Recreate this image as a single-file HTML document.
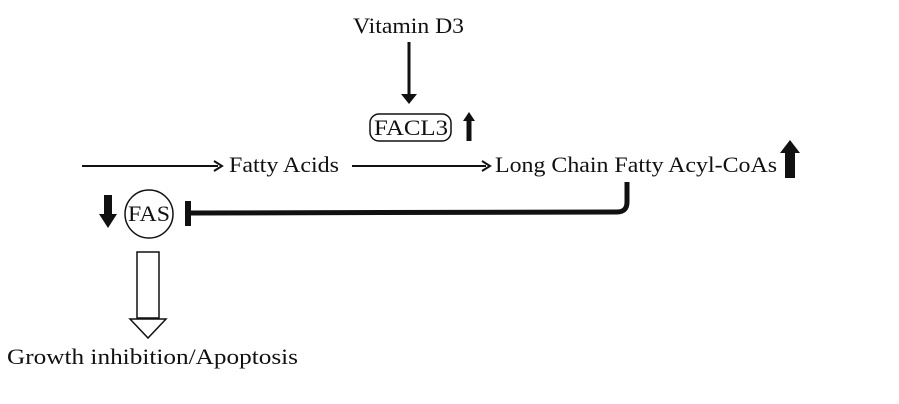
<!DOCTYPE html>
<html><head><style>
body{margin:0;background:#fff;}
svg{display:block;}
text{font-family:"Liberation Serif",serif;font-size:22px;fill:#111;}
</style></head><body>
<svg width="899" height="404" viewBox="0 0 899 404" xmlns="http://www.w3.org/2000/svg">
<text x="353" y="33" textLength="111" lengthAdjust="spacingAndGlyphs">Vitamin D3</text>
<line x1="409" y1="42" x2="409" y2="95" stroke="#111" stroke-width="3"/>
<polygon points="401,94 417,94 409,104" fill="#111"/>
<rect x="370" y="114" width="81" height="27" rx="9" fill="none" stroke="#111" stroke-width="1.5"/>
<text x="374" y="135" font-size="21" textLength="74" lengthAdjust="spacingAndGlyphs">FACL3</text>
<rect x="466.5" y="120" width="5" height="21" fill="#111"/>
<polygon points="463,121 475,121 469,112" fill="#111"/>
<line x1="82" y1="166" x2="218" y2="166" stroke="#111" stroke-width="2"/>
<polyline points="214,161 222,166 214,171" fill="none" stroke="#111" stroke-width="2"/>
<text x="229" y="172" textLength="110" lengthAdjust="spacingAndGlyphs">Fatty Acids</text>
<line x1="352" y1="166" x2="486" y2="166" stroke="#111" stroke-width="2"/>
<polyline points="482,161 490,166 482,171" fill="none" stroke="#111" stroke-width="2"/>
<text x="495" y="172" textLength="282" lengthAdjust="spacingAndGlyphs">Long Chain Fatty Acyl-CoAs</text>
<rect x="785" y="152" width="10" height="26" fill="#111"/>
<polygon points="780,153 800,153 790,140" fill="#111"/>
<path d="M627,182 L627,202 Q627,212 617,212 L190,213" fill="none" stroke="#111" stroke-width="5"/>
<rect x="185" y="201" width="6" height="25" fill="#111"/>
<circle cx="149" cy="214" r="24" fill="none" stroke="#111" stroke-width="1.5"/>
<text x="128" y="221" font-size="20" textLength="42" lengthAdjust="spacingAndGlyphs">FAS</text>
<rect x="104" y="195" width="8" height="20" fill="#111"/>
<polygon points="99,214 117,214 108,228" fill="#111"/>
<rect x="137" y="252" width="22" height="66" fill="none" stroke="#111" stroke-width="1.5"/>
<polygon points="130,319 166,319 148,338" fill="#fff" stroke="#111" stroke-width="1.5"/>
<text x="7" y="364" textLength="291" lengthAdjust="spacingAndGlyphs">Growth inhibition/Apoptosis</text>
</svg>
</body></html>
